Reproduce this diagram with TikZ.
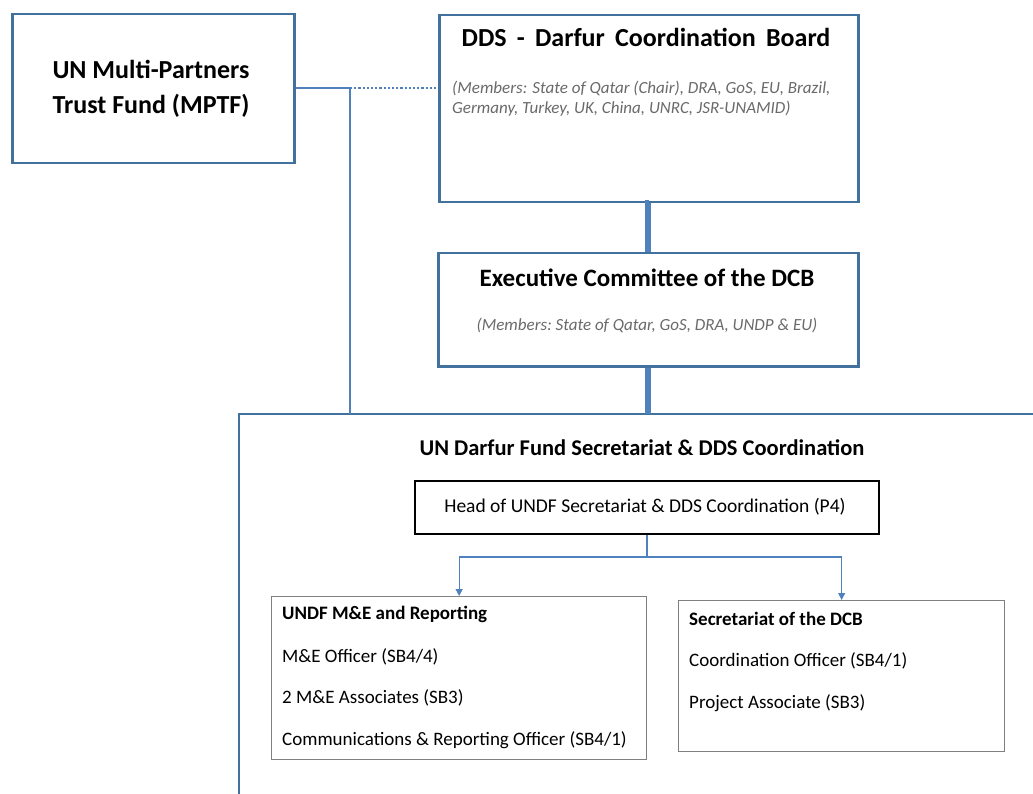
\documentclass[tikz,border=0pt]{standalone}
\usepackage{fontspec}
\setmainfont{Carlito}
\usetikzlibrary{arrows.meta}
\definecolor{boxblue}{HTML}{41719C}
\definecolor{linkblue}{HTML}{4F81BD}
\definecolor{graytxt}{HTML}{6A6A6A}
\definecolor{grayline}{HTML}{7F7F7F}
\begin{document}
\begin{tikzpicture}[x=1pt,y=-1pt,
  bluebox/.style={draw=boxblue, line width=2.5pt, inner sep=0pt, anchor=north west},
  headbox/.style={draw=black, line width=2pt, inner sep=0pt, anchor=north west},
  graybox/.style={draw=grayline, line width=1.3pt, inner sep=0pt, anchor=north west},
  link/.style={draw=linkblue, line width=2.6pt},
  dotlink/.style={draw=linkblue, line width=2.2pt, dotted},
  fatlink/.style={draw=linkblue, line width=6pt},
  arrowtip/.style={draw=linkblue, line width=1.2pt, -{Triangle[length=7pt,width=7pt]}},
  txt/.style={inner sep=0pt, font=\fontsize{19}{21}\selectfont, anchor=west},
  boldtxt/.style={txt, font=\fontsize{19}{21}\selectfont\bfseries},
  memb/.style={inner sep=0pt, text=graytxt, font=\fontsize{17}{20}\selectfont\itshape}
]
\useasboundingbox (0,0) rectangle (1033,794);
\fill[white] (0,0) rectangle (1033,794);

% top boxes
\node[bluebox, minimum width=282pt, minimum height=149pt] (mptf) at (11,13) {};
\node[inner sep=0pt, align=center, font=\fontsize{26}{35}\selectfont\bfseries] (mptft) at (151,89) {UN Multi-Partners\\Trust\ Fund\ (MPTF)};

\node[bluebox, minimum width=419pt, minimum height=187pt] (dcb) at (438,14) {};
\node[inner sep=0pt, font=\fontsize{26}{28}\selectfont\bfseries] (dcbt) at (646,37) {DDS\ \,-\ \,Darfur\ \,Coordination\ \,Board};
\node[memb, anchor=north west, align=left] (dcbm) at (452,81) {(Members: State of Qatar (Chair), DRA, GoS, EU, Brazil,\\Germany,\ Turkey, UK, China, UNRC, JSR-UNAMID)};

\node[bluebox, minimum width=420pt, minimum height=113pt] (exc) at (437,252) {};
\node[inner sep=0pt, font=\fontsize{25}{28}\selectfont\bfseries] (exct) at (647,278) {Executive Committee of the DCB};
\node[memb] (excm) at (647,325) {(Members:\ State\ of Qatar, GoS, DRA, UNDP \& EU)};

% big open box
\coordinate (bigtl) at (239,414);
\draw[draw=boxblue, line width=2.5pt] (239,800) -- (bigtl) -- (1040,414);
\node[inner sep=0pt, font=\fontsize{22.5}{26}\selectfont\bfseries] (bigt) at (642,448) {UN Darfur Fund Secretariat \& DDS Coordination};

\node[headbox, minimum width=464pt, minimum height=53pt] (head) at (414,480) {};
\node[inner sep=0pt, font=\fontsize{19.5}{22}\selectfont] (headt) at (645,507) {Head of UNDF Secretariat \& DDS Coordination (P4)};

\node[graybox, minimum width=375pt, minimum height=163pt] (me) at (271,596) {};
\node[boldtxt] (me0) at (282,614) {UNDF M\&E and Reporting};
\node[txt] (me1) at (282,657) {M\&E Officer (SB4/4)};
\node[txt] (me2) at (282,698) {2 M\&E Associates (SB3)};
\node[txt] (me3) at (282,740) {Communications \& Reporting Officer (SB4/1)};

\node[graybox, minimum width=326pt, minimum height=151pt] (sec) at (678,600) {};
\node[boldtxt] (sec0) at (689,619) {Secretariat of the DCB};
\node[txt] (sec1) at (689,661) {Coordination Officer (SB4/1)};
\node[txt] (sec2) at (689,703) {Project Associate (SB3)};

% connectors
\coordinate (j1) at (350,88);
\draw[link] (mptf.east |- j1) -- (j1);
\draw[dotlink] (j1) -- (dcb.west |- j1);
\draw[link] (j1) -- (j1 |- bigtl);
\draw[fatlink] (dcb.south) -- (exc.south |- dcb.south) -- (exc.north);
\draw[fatlink] (exc.south) -- (exc.south |- bigtl);

\coordinate (split) at (647,557);
\draw[draw=linkblue, line width=2.5pt] (head.south -| split) -- (split);
\draw[arrowtip] (split) -| (me.north);
\draw[arrowtip] (split) -| (sec.north);
\end{tikzpicture}
\end{document}
